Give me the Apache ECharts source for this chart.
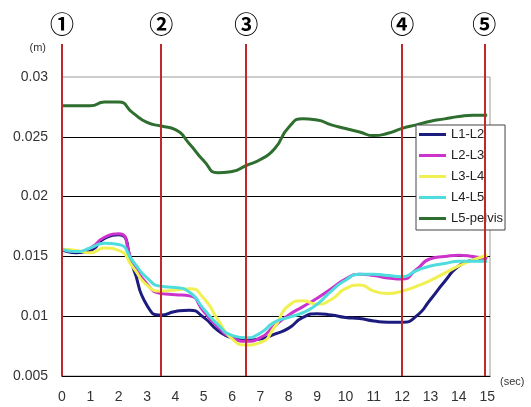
<!DOCTYPE html>
<html><head><meta charset="utf-8">
<script src="https://cdn.jsdelivr.net/npm/echarts@6/dist/echarts.min.js"></script>
<style>html,body{margin:0;padding:0;background:#fff}#c{width:531px;height:407px}</style>
</head><body><div id="c"></div>
<script>
const times = [0,0.5,1,1.5,2,2.5,3,3.5,4,4.5,5,5.5,6,6.5,7,7.5,8,8.5,9,9.5,10,10.5,11,11.5,12,12.5,13,13.5,14,14.5,15];
const seriesNames = ['L1-L2','L2-L3','L3-L4','L4-L5','L5-pelvis'];
const L1L2 = [0.0156,0.0153,0.0155,0.0165,0.0168,0.0141,0.0109,0.0101,0.0104,0.0105,0.0099,0.0088,0.0082,0.0080,0.0081,0.0085,0.0090,0.0099,0.0102,0.0101,0.0099,0.0098,0.0096,0.0095,0.0095,0.0100,0.0114,0.0129,0.0142,0.0147,0.0149];
const L2L3 = [0.0156,0.0154,0.0157,0.0166,0.0169,0.0145,0.0127,0.0119,0.0118,0.0117,0.0104,0.0091,0.0082,0.0079,0.0082,0.0092,0.0101,0.0108,0.0115,0.0123,0.0131,0.0135,0.0134,0.0132,0.0131,0.0139,0.0148,0.0150,0.0151,0.0150,0.0148];
const L3L4 = [0.0156,0.0155,0.0153,0.0157,0.0155,0.0141,0.0126,0.0121,0.0122,0.0123,0.0115,0.0097,0.0081,0.0076,0.0078,0.0091,0.0109,0.0113,0.0110,0.0114,0.0123,0.0126,0.0121,0.0119,0.0121,0.0125,0.0130,0.0136,0.0142,0.0147,0.0151];
const L4L5 = [0.0156,0.0154,0.0157,0.0161,0.0160,0.0146,0.0132,0.0125,0.0124,0.0120,0.0106,0.0093,0.0084,0.0082,0.0086,0.0095,0.0099,0.0103,0.0110,0.0121,0.0130,0.0135,0.0135,0.0134,0.0133,0.0138,0.0142,0.0144,0.0146,0.0146,0.0146];
const L5pelvis = [0.0276,0.0276,0.0276,0.0279,0.0279,0.0270,0.0262,0.0259,0.0256,0.0244,0.0230,0.0220,0.0221,0.0226,0.0231,0.0240,0.0258,0.0265,0.0264,0.0260,0.0257,0.0254,0.0251,0.0253,0.0257,0.0260,0.0263,0.0265,0.0267,0.0268,0.0268];
const eventTimes = [0, 3.5, 6.5, 12, 14.9];
const eventMarks = ['①','②','③','④','⑤'];
const colors = ['#1c1c7e','#cc33cc','#f0f050','#4fdcdc','#2e6e2e'];
const values = [L1L2, L2L3, L3L4, L4L5, L5pelvis];

const font = 'Liberation Sans';
const chart = echarts.init(document.getElementById('c'), null, {renderer:'canvas'});
const lineSeries = values.map((arr, i) => ({
  name: seriesNames[i], type: 'line', smooth: 0.6, showSymbol: false, symbol: 'none',
  xAxisIndex: 0, yAxisIndex: 0,
  data: times.map((t, j) => [t, arr[j]]),
  lineStyle: {color: colors[i], width: 3}, itemStyle: {color: colors[i]}, z: 2
}));
const redLine = {color: '#c0282a', width: 2, type: 'solid'};
chart.setOption({
  animation: false,
  backgroundColor: '#fff',
  grid: [
    {left: 62, top: 77, width: 428, height: 299, show: true, borderColor: '#999', borderWidth: 1, backgroundColor: 'transparent'},
    {left: 62, top: 44, width: 428, height: 33}
  ],
  xAxis: [
    {type: 'value', gridIndex: 0, min: 0, max: 15.1, interval: 1,
     axisLine: {show: true, lineStyle: {color: '#000', width: 1}}, axisTick: {show: false}, splitLine: {show: false},
     axisLabel: {fontFamily: font, fontSize: 14, color: '#333', margin: 14,
       formatter: v => Number.isInteger(v) ? String(v) : ''},
     name: '(sec)', nameLocation: 'end', nameGap: 10,
     nameTextStyle: {fontFamily: font, fontSize: 11, color: '#333', verticalAlign: 'top', align: 'left'}},
    {type: 'value', gridIndex: 1, min: 0, max: 15.1, show: false}
  ],
  yAxis: [
    {type: 'value', gridIndex: 0, min: 0.005, max: 0.03, interval: 0.005,
     axisLine: {show: false}, axisTick: {show: false},
     splitLine: {show: true, showMinLine: false, showMaxLine: false, lineStyle: {color: '#000', width: 1}},
     axisLabel: {fontFamily: font, fontSize: 14, color: '#333', margin: 14},
     name: '(m)', nameLocation: 'end', nameGap: 24,
     nameTextStyle: {fontFamily: font, fontSize: 11, color: '#333', align: 'right', padding: [0, 16, 0, 0]}},
    {type: 'value', gridIndex: 1, min: 0, max: 1, show: false}
  ],
  legend: {
    orient: 'vertical', left: 416, top: 125, data: seriesNames, icon: 'rect',
    itemWidth: 27, itemHeight: 3, itemGap: 8, padding: [3, 2, 5, 3],
    borderColor: '#444', borderWidth: 1, backgroundColor: '#fff',
    textStyle: {fontFamily: font, fontSize: 13, color: '#222'}
  },
  series: lineSeries.concat([
    {type: 'line', name: 'events-main', xAxisIndex: 0, yAxisIndex: 0, data: [], z: 3,
     markLine: {silent: true, symbol: 'none', lineStyle: redLine, label: {show: false},
       data: eventTimes.map(t => ({xAxis: t}))}},
    {type: 'line', name: 'events-top', xAxisIndex: 1, yAxisIndex: 1, data: [], z: 3,
     markLine: {silent: true, symbol: 'none', lineStyle: redLine,
       label: {show: true, position: 'end', distance: 8, fontFamily: 'Noto Sans CJK JP', fontSize: 24, fontWeight: 'bold', color: '#000',
         formatter: p => eventMarks[p.dataIndex]},
       data: eventTimes.map(t => ({xAxis: t}))}}
  ])
});
</script></body></html>
